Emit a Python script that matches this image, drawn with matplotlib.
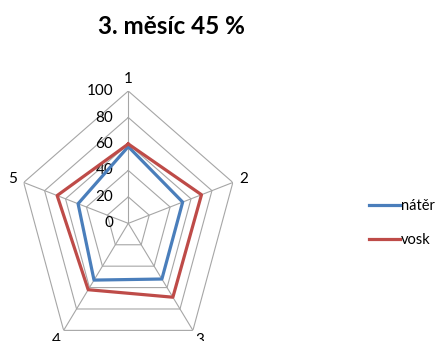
import numpy as np
import matplotlib.pyplot as plt
from matplotlib.transforms import offset_copy

plt.rcParams['font.family'] = ['Lato', 'DejaVu Sans']

# hodnoty pro jednotlivá měřená místa
osy = ['1', '2', '3', '4', '5']
urovne = [0, 20, 40, 60, 80, 100]
nater = [58, 52, 52, 53, 48]
vosk = [60, 70, 69, 62, 68]

uhly = np.linspace(0, 2 * np.pi, len(osy), endpoint=False)
uhly_zavrene = np.append(uhly, uhly[0])

fig = plt.figure(figsize=(4.39, 3.41), dpi=100)
ax = fig.add_axes([0.0417, -0.043, 0.501, 0.776], projection='polar')
ax.set_aspect('auto')
ax.set_theta_zero_location('N')
ax.set_theta_direction(-1)
ax.set_ylim(0, 100)

# mřížka ve tvaru pětiúhelníku
for u in urovne[1:]:
    ax.plot(uhly_zavrene, [u] * len(uhly_zavrene), color='#a6a6a6', lw=0.8, zorder=1)
ax.spines['polar'].set_visible(False)
ax.yaxis.grid(False)
ax.xaxis.grid(True, color='#a6a6a6', lw=0.8)
ax.set_yticks([])
ax.set_xticks(uhly)
ax.set_xticklabels(osy, fontsize=11)
ax.tick_params(axis='x', pad=-2)

# popisky stupnice vlevo od první osy
posun = offset_copy(ax.transData, fig=fig, x=-15, y=0, units='dots')
for u in urovne:
    ax.text(0, u, str(u), transform=posun, ha='right', va='center', fontsize=11)

ax.plot(uhly_zavrene, np.append(nater, nater[0]), color='#4a7ebb', lw=2.3, label='nátěr', zorder=3)
ax.plot(uhly_zavrene, np.append(vosk, vosk[0]), color='#be4b48', lw=2.3, label='vosk', zorder=3)

fig.text(0.391, 0.921, '3. měsíc 45 %', ha='center', va='center', fontsize=17.5, fontweight='bold')

fig.legend(loc='center left', bbox_to_anchor=(0.8405, 0.345), frameon=False, fontsize=10.5,
           handlelength=2.1, handletextpad=0.1, labelspacing=1.38, borderpad=0, borderaxespad=0)

fig.savefig('out.png', dpi=100)
